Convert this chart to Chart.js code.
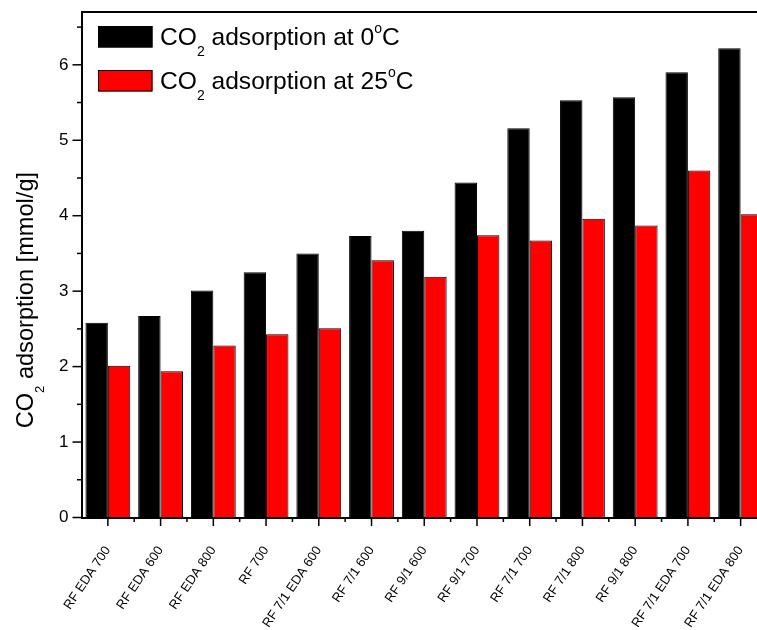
<!DOCTYPE html>
<html>
<head>
<meta charset="utf-8">
<title>CO2 adsorption</title>
<script src="https://cdn.jsdelivr.net/npm/chart.js@4/dist/chart.umd.min.js"></script>
<style>
  html, body { margin: 0; padding: 0; background: #fff; overflow: hidden; width: 757px; height: 630px; }
  #wrap { position: relative; width: 767px; height: 630px; }
</style>
</head>
<body>
<div id="wrap"><canvas id="chart" width="767" height="630"></canvas></div>
<script>
// Samples (activation series) and measured CO2 uptake in mmol/g
const SAMPLES = [
  'RF EDA 700', 'RF EDA 600', 'RF EDA 800', 'RF 700', 'RF 7/1 EDA 600',
  'RF 7/1 600', 'RF 9/1 600', 'RF 9/1 700', 'RF 7/1 700', 'RF 7/1 800',
  'RF 9/1 800', 'RF 7/1 EDA 700', 'RF 7/1 EDA 800'
];
const ADS_0C  = [2.58, 2.67, 3.01, 3.25, 3.50, 3.73, 3.80, 4.44, 5.16, 5.53, 5.57, 5.90, 6.22];
const ADS_25C = [2.01, 1.94, 2.28, 2.43, 2.51, 3.41, 3.19, 3.74, 3.67, 3.96, 3.87, 4.60, 4.02];
const SERIES_LABELS = ['CO₂ adsorption at 0°C', 'CO₂ adsorption at 25°C'];
const SERIES_COLORS = ['#000000', '#ff0000'];
const Y_TITLE = 'CO₂ adsorption [mmol/g]';
const Y_MIN = 0;
const Y_MAX = 6.7;

const FONT = '"Liberation Sans", Arial, sans-serif';

// Split a label into normal / subscript / superscript runs
function richRuns(str) {
  const runs = [];
  for (const ch of str) {
    let kind = 'n', t = ch;
    if (ch === '₂') { kind = 'sub'; t = '2'; }
    else if (ch === '°') { kind = 'sup'; t = 'o'; }
    const last = runs[runs.length - 1];
    if (last && last.kind === kind) last.t += t; else runs.push({ kind, t });
  }
  return runs;
}

function drawRich(ctx, str, x, y, size) {
  let cx = x;
  ctx.textAlign = 'left';
  ctx.textBaseline = 'alphabetic';
  for (const r of richRuns(str)) {
    const small = r.kind !== 'n';
    ctx.font = (small ? Math.round(size * 0.55) : size) + 'px ' + FONT;
    const dy = r.kind === 'sub' ? size * 0.44 : r.kind === 'sup' ? -size * 0.48 : 0;
    ctx.fillText(r.t, cx, y + dy);
    cx += ctx.measureText(r.t).width;
  }
}

// keep the plot area fixed: no extra room reserved for end labels
function fixBox(width, height) {
  return s => {
    if (width !== null) s.width = width;
    if (height !== null) s.height = height;
    s.paddingTop = s.paddingBottom = s.paddingLeft = s.paddingRight = 0;
  };
}

// Frame, outward tick marks, legend and axis title
const decorations = {
  id: 'decorations',
  afterDraw(chart) {
    const { ctx, chartArea: a, scales: { x, y } } = chart;
    ctx.save();
    ctx.strokeStyle = '#000';
    ctx.fillStyle = '#000';

    // closing frame lines
    ctx.lineWidth = 2;
    ctx.beginPath();
    ctx.moveTo(a.left, a.top);
    ctx.lineTo(a.right, a.top);
    ctx.lineTo(a.right, a.bottom);
    ctx.stroke();

    // y ticks: major at integers, minor at halves
    ctx.lineWidth = 1.5;
    for (let i = 0; i * 0.5 <= Y_MAX + 1e-9; i++) {
      const v = i * 0.5;
      const py = y.getPixelForValue(v);
      const len = (i % 2 === 0) ? 9 : 4.5;
      ctx.beginPath();
      ctx.moveTo(a.left, py);
      ctx.lineTo(a.left - len, py);
      ctx.stroke();
    }

    // x ticks: major at category centres, minor at boundaries
    for (let i = 0; i < SAMPLES.length; i++) {
      const pc = x.getPixelForValue(i);
      ctx.beginPath(); ctx.moveTo(pc, a.bottom); ctx.lineTo(pc, a.bottom + 8.5); ctx.stroke();
      const pb = x.getPixelForValue(i + 0.5);
      ctx.beginPath(); ctx.moveTo(pb, a.bottom); ctx.lineTo(pb, a.bottom + 4.5); ctx.stroke();
    }

    // legend
    const bx = a.left + 16.5, bw = 54.5, bh = 21.5;
    chart.data.datasets.forEach((ds, k) => {
      const by = a.top + 14 + k * 44;
      ctx.fillStyle = ds.backgroundColor;
      ctx.fillRect(bx, by, bw, bh);
      ctx.lineWidth = 1;
      ctx.strokeStyle = '#000';
      ctx.strokeRect(bx + 0.5, by + 0.5, bw - 1, bh - 1);
      ctx.fillStyle = '#000';
      drawRich(ctx, ds.label, bx + 62, by + 19.2, 24.6);
    });

    // y axis title
    ctx.save();
    ctx.translate(33.3, 428.3);
    ctx.rotate(-Math.PI / 2);
    ctx.fillStyle = '#000';
    drawRich(ctx, Y_TITLE, 0, 0, 23.6);
    ctx.restore();

    ctx.restore();
  }
};

new Chart(document.getElementById('chart'), {
  type: 'bar',
  data: {
    labels: SAMPLES,
    datasets: [
      { label: SERIES_LABELS[0], data: ADS_0C, backgroundColor: SERIES_COLORS[0] },
      { label: SERIES_LABELS[1], data: ADS_25C, backgroundColor: SERIES_COLORS[1] }
    ].map(d => Object.assign(d, {
      borderColor: '#000',
      borderWidth: 1,
      categoryPercentage: 0.85,
      barPercentage: 1
    }))
  },
  options: {
    responsive: false,
    animation: false,
    devicePixelRatio: 1,
    layout: { autoPadding: false, padding: { top: 12, left: 0, right: 0, bottom: 0 } },
    plugins: { legend: { display: false }, tooltip: { enabled: false } },
    scales: {
      x: {
        grid: { display: false, drawTicks: false },
        border: { display: true, color: '#000', width: 2 },
        ticks: {
          autoSkip: false, minRotation: 56, maxRotation: 56, padding: 26,
          color: '#000', font: { family: FONT, size: 13 }
        },
        afterFit: fixBox(null, 112.5)
      },
      y: {
        min: Y_MIN, max: Y_MAX,
        grid: { display: false, drawTicks: false },
        border: { display: true, color: '#000', width: 2 },
        ticks: {
          stepSize: 1, includeBounds: false, padding: 13,
          color: '#000', font: { family: FONT, size: 17 },
          callback: v => Number.isInteger(v) ? v : ''
        },
        afterFit: fixBox(81.5, null)
      }
    }
  },
  plugins: [decorations]
});
</script>
</body>
</html>
